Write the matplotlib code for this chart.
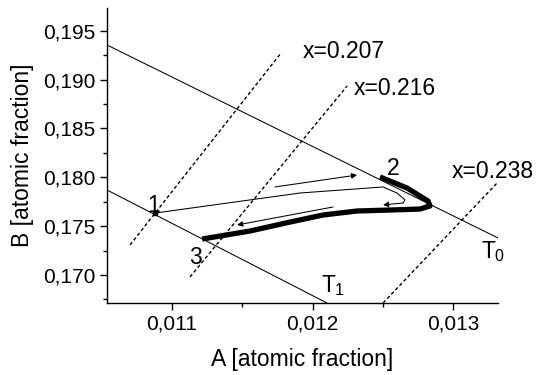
import matplotlib
matplotlib.use("Agg")
import matplotlib.pyplot as plt

plt.rcParams['font.family'] = ['Liberation Sans', 'DejaVu Sans']
plt.rcParams['mathtext.fontset'] = 'custom'
plt.rcParams['mathtext.rm'] = 'Liberation Sans'
plt.rcParams['mathtext.it'] = 'Liberation Sans'

# boundary lines T0 / T1
t0_a = [0.010537, 0.01332]
t0_b = [0.19354, 0.17379]
t1_a = [0.010537, 0.012103]
t1_b = [0.17870, 0.167135]

# dashed iso-lines, their end points and label positions
iso_labels = ["x=0.207", "x=0.216", "x=0.238"]
iso_a = [[0.010701, 0.011776], [0.011128, 0.012246], [0.012502, 0.013313]]
iso_b = [[0.17307, 0.19272], [0.16980, 0.18934], [0.167135, 0.17941]]
iso_text_a = [0.011932, 0.012290, 0.012993]
iso_text_b = [0.19282, 0.18904, 0.18054]

# thin path from point 1 towards 2 with hook back
path_a = [0.010879, 0.011911, 0.012502, 0.012601, 0.012658, 0.012644]
path_b = [0.17634, 0.17839, 0.17901, 0.17839, 0.17768, 0.17737]
hook_tip = (0.012502, 0.17717)

# thick path 3 -> 2
thick_a = [0.011214, 0.011555, 0.011840, 0.012075, 0.012317, 0.012552,
           0.012765, 0.012836, 0.012822, 0.012673, 0.012480]
thick_b = [0.17368, 0.17450, 0.17542, 0.17614, 0.17655, 0.17665,
           0.17675, 0.17706, 0.17757, 0.17890, 0.18003]

# direction arrows (start, end)
arrow_up = ((0.011733, 0.17901), (0.012317, 0.18023))
arrow_down = ((0.012146, 0.17696), (0.011463, 0.17512))

point1 = (0.010879, 0.17634)

# point labels
pt_labels = ["1", "2", "3"]
pt_a = [0.010866, 0.012573, 0.011164]
pt_b = [0.17713, 0.18093, 0.17183]

fig = plt.figure(figsize=(5.36, 3.75), dpi=100)
ax = fig.add_axes([0.1996, 0.192, 0.7295, 0.7867])

ax.plot(t0_a, t0_b, color='black', lw=0.75)
ax.plot(t1_a, t1_b, color='black', lw=0.75)

for xs, ys, lab, tx, ty in zip(iso_a, iso_b, iso_labels, iso_text_a, iso_text_b):
    ax.plot(xs, ys, color='black', lw=1.0, linestyle=(0, (2.5, 1.8)))
    ax.text(tx, ty, lab, fontsize=16.5, ha='left', va='center')

ax.plot(path_a, path_b, color='black', lw=0.75)
ax.annotate('', xy=hook_tip, xytext=(path_a[-1], path_b[-1]),
            arrowprops=dict(arrowstyle='-|>', color='black', lw=0.75,
                            mutation_scale=8, shrinkA=0, shrinkB=0))

ax.plot(thick_a, thick_b, color='black', lw=3.8, solid_capstyle='butt',
        solid_joinstyle='round')

for (s, e) in (arrow_up, arrow_down):
    ax.annotate('', xy=e, xytext=s,
                arrowprops=dict(arrowstyle='-|>', color='black', lw=0.75,
                                mutation_scale=8, shrinkA=0, shrinkB=0))

ax.plot([point1[0]], [point1[1]], marker='s', ms=3, color='black')

for lab, x, y in zip(pt_labels, pt_a, pt_b):
    ax.text(x, y, lab, fontsize=16.5, ha='center', va='center')

ax.text(0.013199, 0.17174, '$T_0$', fontsize=16.5, ha='left', va='baseline')
ax.text(0.012060, 0.16826, '$T_1$', fontsize=16.5, ha='left', va='baseline')

ax.set_xlim(0.010537, 0.01332)
ax.set_ylim(0.167135, 0.197323)
ax.set_xticks([0.011, 0.012, 0.013])
ax.set_xticklabels(['0,011', '0,012', '0,013'])
ax.set_xticks([0.0115, 0.0125], minor=True)
ax.set_yticks([0.170, 0.175, 0.180, 0.185, 0.190, 0.195])
ax.set_yticklabels(['0,170', '0,175', '0,180', '0,185', '0,190', '0,195'])
ax.set_yticks([0.1675, 0.1725, 0.1775, 0.1825, 0.1875, 0.1925], minor=True)
ax.tick_params(which='major', direction='out', length=5, width=1, labelsize=15)
ax.tick_params(which='minor', direction='out', length=3, width=1)
ax.spines['top'].set_visible(False)
ax.spines['right'].set_visible(False)
ax.spines['left'].set_linewidth(1)
ax.spines['bottom'].set_linewidth(1)

ax.set_xlabel('A [atomic fraction]', fontsize=16.5, labelpad=10)
ax.set_ylabel('B [atomic fraction]', fontsize=16.5, labelpad=6)

fig.savefig('out.png', dpi=100)
